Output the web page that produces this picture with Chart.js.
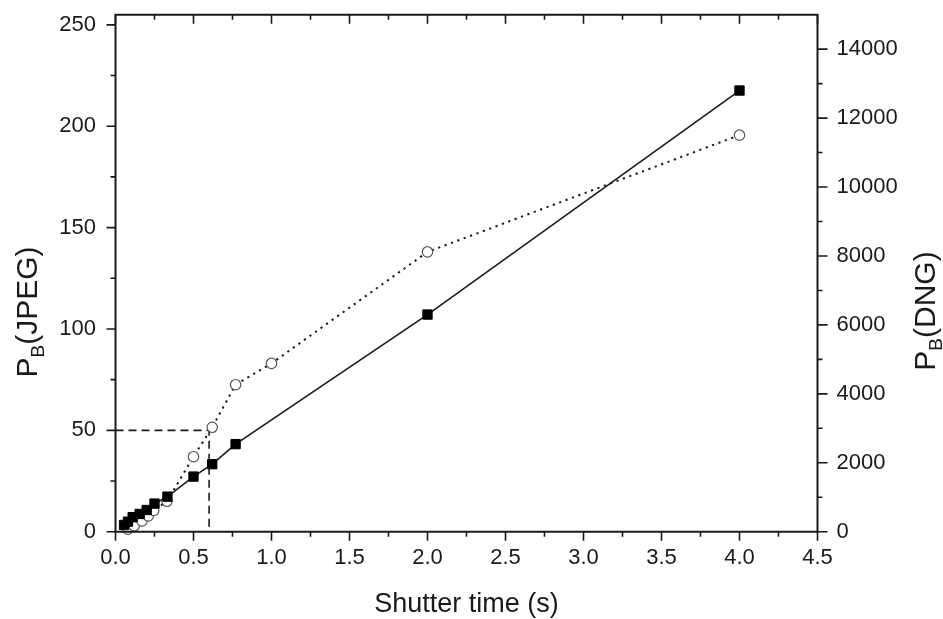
<!DOCTYPE html>
<html><head><meta charset="utf-8">
<script src="https://cdn.jsdelivr.net/npm/chart.js@4.4.1/dist/chart.umd.min.js"></script>
<style>html,body{margin:0;padding:0;background:#fff}#wrap{width:943px;height:619px}</style>
</head><body><div id="wrap"><canvas id="c" width="943" height="619"></canvas></div>
<script>
// Data
const shutterJPEG = [0.08, 0.12, 0.17, 0.21, 0.245, 0.33, 0.5, 0.62, 0.77, 1.0, 2.0, 4.0];
const valuesJPEG  = [1.2, 2.9, 5.3, 7.8, 10.5, 15, 37, 51.5, 72.5, 83, 138, 195.6];
const shutterDNG  = [0.055, 0.08, 0.11, 0.155, 0.2, 0.25, 0.333, 0.5, 0.62, 0.77, 2.0, 4.0];
const valuesDNG   = [195, 290, 420, 515, 630, 815, 1017, 1599, 1959, 2541, 6300, 12800];
const guideX = [0, 0.6, 0.6];
const guideY = [50, 50, 0];
// Ticks
const xTicks = [0, 0.5, 1, 1.5, 2, 2.5, 3, 3.5, 4, 4.5];
const xMinorTicks = [0.25, 0.75, 1.25, 1.75, 2.25, 2.75, 3.25, 3.75, 4.25];
const leftTicks = [0, 50, 100, 150, 200, 250];
const leftMinorTicks = [25, 75, 125, 175, 225];
const rightTicks = [0, 2000, 4000, 6000, 8000, 10000, 12000, 14000];
const rightMinorTicks = [1000, 3000, 5000, 7000, 9000, 11000, 13000];
const xTitle = 'Shutter time (s)';
const leftTitle = ['P', 'B', '(JPEG)'];
const rightTitle = ['P', 'B', '(DNG)'];

const FONT = '"Liberation Sans", Arial, sans-serif';
const INK = '#1a1a1a';

function pts(xs, ys) { return xs.map((x, i) => ({x: x, y: ys[i]})); }

const framePlugin = {
  id: 'frame',
  afterDatasetsDraw(chart) {
    const ctx = chart.ctx, a = chart.chartArea;
    const sx = chart.scales.x, sy = chart.scales.y, sr = chart.scales.y1;
    ctx.save();
    ctx.strokeStyle = INK;
    ctx.lineWidth = 2;
    ctx.beginPath();
    ctx.rect(a.left, a.top, a.right - a.left, a.bottom - a.top);
    ctx.stroke();
    ctx.lineWidth = 1.6;
    ctx.beginPath();
    const seg = (x1, y1, x2, y2) => { ctx.moveTo(x1, y1); ctx.lineTo(x2, y2); };
    xTicks.forEach(v => { const p = sx.getPixelForValue(v); seg(p, a.bottom, p, a.bottom + 9); seg(p, a.top, p, a.top + 9); });
    xMinorTicks.forEach(v => { const p = sx.getPixelForValue(v); seg(p, a.bottom, p, a.bottom + 5); seg(p, a.top, p, a.top + 5); });
    leftTicks.forEach(v => { const p = sy.getPixelForValue(v); seg(a.left, p, a.left - 9, p); });
    leftMinorTicks.forEach(v => { const p = sy.getPixelForValue(v); seg(a.left, p, a.left - 5, p); });
    rightTicks.forEach(v => { const p = sr.getPixelForValue(v); seg(a.right, p, a.right + 10, p); });
    rightMinorTicks.forEach(v => { const p = sr.getPixelForValue(v); seg(a.right, p, a.right + 5, p); });
    ctx.stroke();
    ctx.restore();
  },
  afterDraw(chart) {
    const ctx = chart.ctx, a = chart.chartArea;
    ctx.save();
    ctx.fillStyle = INK;
    ctx.textBaseline = 'alphabetic';
    ctx.font = '27px ' + FONT;
    ctx.textAlign = 'center';
    ctx.fillText(xTitle, (a.left + a.right) / 2, 612);
    function rotTitle(parts, cx, cy) {
      const big = '30px ' + FONT, small = '19px ' + FONT;
      ctx.font = big; const w0 = ctx.measureText(parts[0]).width; const w2 = ctx.measureText(parts[2]).width;
      ctx.font = small; const w1 = ctx.measureText(parts[1]).width;
      const total = w0 + w1 + w2;
      ctx.save();
      ctx.translate(cx, cy);
      ctx.rotate(-Math.PI / 2);
      ctx.textAlign = 'left';
      let x = -total / 2;
      const base = 10.5;
      ctx.font = big; ctx.fillText(parts[0], x, base); x += w0;
      ctx.font = small; ctx.fillText(parts[1], x, base + 7); x += w1;
      ctx.font = big; ctx.fillText(parts[2], x, base);
      ctx.restore();
    }
    rotTitle(leftTitle, 26, 312);
    rotTitle(rightTitle, 924, 311);
    ctx.restore();
  }
};

function noPad(s) { s.paddingTop = 0; s.paddingBottom = 0; s.paddingLeft = 0; s.paddingRight = 0; }

new Chart(document.getElementById('c'), {
  type: 'scatter',
  data: {
    datasets: [
      {
        label: 'DNG',
        data: pts(shutterDNG, valuesDNG),
        yAxisID: 'y1',
        showLine: true,
        borderColor: INK,
        borderWidth: 1.6,
        pointStyle: 'rect',
        pointRadius: 6.6,
        pointBorderWidth: 1,
        pointBackgroundColor: '#000',
        pointBorderColor: '#000',
        clip: false
      },
      {
        label: 'JPEG',
        data: pts(shutterJPEG, valuesJPEG),
        yAxisID: 'y',
        showLine: true,
        borderColor: INK,
        borderWidth: 2,
        borderDash: [2.2, 4.6],
        pointStyle: 'circle',
        pointRadius: 5.2,
        pointBorderWidth: 1.2,
        pointBackgroundColor: '#fff',
        pointBorderColor: '#555',
        clip: false
      },
      {
        label: 'guide',
        data: pts(guideX, guideY),
        yAxisID: 'y',
        showLine: true,
        borderColor: INK,
        borderWidth: 1.6,
        borderDash: [8, 5],
        pointRadius: 0,
        clip: false
      }
    ]
  },
  options: {
    responsive: false,
    animation: false,
    devicePixelRatio: 1,
    layout: { padding: { top: 14.7, left: 0, right: 0, bottom: 0 } },
    plugins: { legend: { display: false }, tooltip: { enabled: false } },
    scales: {
      x: {
        type: 'linear', position: 'bottom', min: 0, max: 4.5,
        afterBuildTicks: s => { s.ticks = xTicks.map(v => ({value: v})); },
        afterFit: s => { s.height = 87.3; noPad(s); },
        grid: { display: false, drawTicks: false }, border: { display: false },
        ticks: { font: { family: FONT, size: 22 }, color: INK, padding: 13, maxRotation: 0,
                 callback: v => Number(v).toFixed(1) }
      },
      y: {
        type: 'linear', position: 'left', min: 0, max: 255,
        afterBuildTicks: s => { s.ticks = leftTicks.map(v => ({value: v})); },
        afterFit: s => { s.width = 115.5; noPad(s); },
        grid: { display: false, drawTicks: false }, border: { display: false },
        ticks: { font: { family: FONT, size: 22 }, color: INK, padding: 19.5, callback: v => String(v) }
      },
      y1: {
        type: 'linear', position: 'right', min: 0, max: 15000,
        afterBuildTicks: s => { s.ticks = rightTicks.map(v => ({value: v})); },
        afterFit: s => { s.width = 125.5; noPad(s); },
        grid: { display: false, drawTicks: false }, border: { display: false },
        ticks: { font: { family: FONT, size: 22 }, color: INK, padding: 19, callback: v => String(v) }
      }
    }
  },
  plugins: [framePlugin]
});
</script>
</body></html>
